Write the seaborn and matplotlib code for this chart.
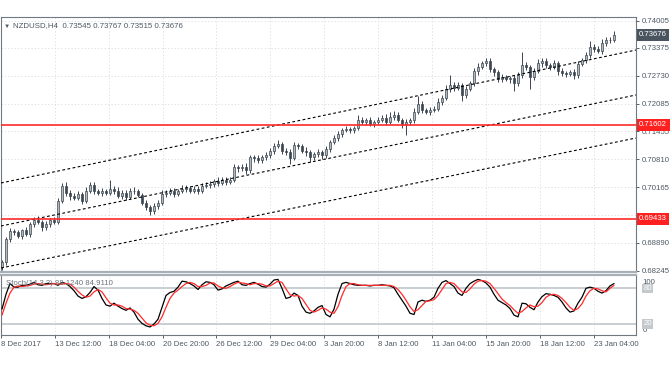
import numpy as np
import pandas as pd
import matplotlib
matplotlib.use("Agg")
import matplotlib.pyplot as plt
import seaborn as sns

# NZDUSD H4 closes (open = previous close)
first_open = 0.6833
close = [
    0.6844, 0.6896, 0.6915, 0.6913, 0.6905, 0.6917, 0.6908, 0.6931, 0.6941, 0.6936,
    0.6924, 0.6932, 0.6941, 0.6937, 0.6985, 0.7020, 0.7004, 0.6996, 0.6992, 0.7001,
    0.6985, 0.7008, 0.7022, 0.7008, 0.7004, 0.7008, 0.7004, 0.7013, 0.7008, 0.6996,
    0.7004, 0.6994, 0.7008, 0.7008, 0.6999, 0.6980, 0.6971, 0.6961, 0.6973, 0.6980,
    0.7001, 0.7004, 0.7008, 0.7001, 0.7008, 0.7013, 0.7015, 0.7008, 0.7013, 0.7008,
    0.7020, 0.7022, 0.7024, 0.7031, 0.7027, 0.7034, 0.7029, 0.7034, 0.7062, 0.7060,
    0.7064, 0.7055, 0.7085, 0.7083, 0.7078, 0.7085, 0.7090, 0.7101, 0.7111, 0.7115,
    0.7101, 0.7097, 0.7083, 0.7113, 0.7111, 0.7101, 0.7097, 0.7085, 0.7092, 0.7097,
    0.7090, 0.7104, 0.7120, 0.7129, 0.7139, 0.7148, 0.7150, 0.7148, 0.7153, 0.7171,
    0.7167, 0.7171, 0.7162, 0.7167, 0.7171, 0.7176, 0.7167, 0.7178, 0.7183, 0.7171,
    0.7162, 0.7167, 0.7171, 0.7190, 0.7209, 0.7195, 0.7190, 0.7195, 0.7197, 0.7213,
    0.7223, 0.7242, 0.7253, 0.7246, 0.7251, 0.7228, 0.7242, 0.7256, 0.7284, 0.7293,
    0.7302, 0.7307, 0.7288, 0.7281, 0.7265, 0.7270, 0.7265, 0.7267, 0.7256, 0.7274,
    0.7298, 0.7293, 0.7270, 0.7284, 0.7302, 0.7307, 0.7298, 0.7293, 0.7302, 0.7284,
    0.7279, 0.7277, 0.7281, 0.7274, 0.7300, 0.7309, 0.7321, 0.7340, 0.7335, 0.7330,
    0.7349, 0.7356, 0.73545, 0.73676,
]
# wick lengths in pips above / below the body
wick_up = [
    5, 6, 8, 5, 6, 4, 7, 5, 6, 8,
    5, 6, 4, 7, 6, 7, 8, 5, 6, 7,
    5, 8, 6, 7, 5, 6, 4, 20, 6, 8,
    5, 7, 6, 8, 5, 4, 6, 5, 7, 6,
    8, 5, 7, 6, 5, 8, 6, 5, 7, 6,
    5, 7, 6, 5, 8, 6, 5, 7, 9, 6,
    7, 8, 6, 5, 7, 6, 8, 6, 7, 10,
    6, 5, 7, 8, 6, 5, 7, 6, 5, 8,
    6, 7, 5, 8, 6, 5, 7, 6, 5, 12,
    7, 6, 8, 5, 7, 6, 9, 12, 8, 6,
    5, 7, 6, 8, 18, 6, 5, 7, 6, 8,
    7, 9, 22, 6, 7, 5, 8, 6, 7, 9,
    6, 8, 7, 6, 5, 7, 6, 5, 8, 7,
    30, 8, 6, 7, 9, 6, 7, 5, 8, 6,
    7, 5, 6, 8, 7, 6, 8, 14, 7, 6,
    8, 6, 7, 9,
]
wick_dn = [
    7, 6, 5, 7, 6, 8, 5, 6, 7, 5,
    8, 6, 7, 5, 6, 5, 7, 8, 6, 5,
    7, 6, 5, 8, 6, 7, 5, 6, 8, 5,
    6, 8, 5, 7, 6, 5, 8, 9, 6, 7,
    5, 7, 6, 8, 5, 6, 7, 5, 6, 8,
    6, 5, 7, 6, 8, 5, 7, 6, 5, 8,
    6, 7, 5, 8, 6, 5, 7, 6, 8, 5,
    7, 6, 12, 5, 7, 6, 8, 10, 6, 5,
    8, 6, 7, 5, 6, 8, 5, 7, 6, 5,
    6, 8, 5, 7, 6, 5, 8, 6, 7, 5,
    8, 25, 7, 6, 5, 8, 6, 7, 5, 6,
    7, 5, 6, 8, 6, 12, 7, 5, 6, 8,
    5, 7, 6, 8, 7, 6, 5, 8, 18, 6,
    5, 7, 27, 6, 5, 8, 6, 7, 5, 8,
    6, 7, 5, 8, 6, 5, 7, 6, 8, 5,
    6, 7, 5, 3,
]
# Stochastic (14,3,3): main (black) and signal (red)
stoch_k = [
    45, 70, 88, 82, 82, 85, 85, 87, 90, 86,
    85, 88, 88, 88, 85, 90, 88, 83, 76, 67,
    63, 66, 73, 83, 77, 63, 52, 50, 55, 50,
    46, 43, 47, 40, 28, 21, 17, 15, 20, 28,
    48, 68, 73, 75, 82, 92, 91, 88, 84, 78,
    86, 91, 90, 86, 77, 79, 84, 87, 90, 92,
    86, 85, 88, 90, 87, 83, 82, 87, 94, 95,
    80, 63, 65, 72, 68, 50, 40, 38, 42, 48,
    51, 36, 32, 45, 70, 88, 90, 88, 86, 85,
    85, 85, 84, 85, 85, 86, 85, 84, 81, 70,
    60, 50, 38, 36, 57, 60, 58, 60, 65, 80,
    90, 93, 88, 83, 72, 68, 80, 88, 92, 95,
    93, 89, 82, 70, 60, 56, 52, 46, 35, 32,
    55, 54, 48, 44, 57, 66, 71, 70, 68, 65,
    57, 47, 40, 42, 55, 65, 80, 82, 80, 75,
    72, 76, 84, 88,
]
stoch_d = [
    35, 55, 72, 82, 84, 83, 84, 85, 87, 88,
    87, 86, 87, 88, 87, 87, 88, 87, 82, 75,
    69, 65, 67, 74, 78, 74, 64, 55, 52, 52,
    50, 46, 45, 43, 38, 30, 22, 18, 17, 21,
    32, 48, 63, 72, 77, 83, 88, 90, 88, 83,
    83, 85, 89, 89, 84, 81, 80, 83, 87, 90,
    89, 88, 86, 88, 88, 87, 84, 84, 88, 92,
    90, 79, 69, 67, 68, 63, 53, 43, 40, 43,
    47, 45, 40, 38, 49, 68, 83, 88, 88, 86,
    85, 85, 85, 85, 85, 85, 85, 85, 83, 78,
    70, 60, 49, 41, 44, 51, 58, 59, 61, 68,
    78, 88, 90, 88, 81, 74, 73, 79, 87, 92,
    93, 92, 88, 80, 71, 62, 56, 51, 44, 38,
    41, 47, 52, 49, 50, 56, 65, 69, 70, 68,
    63, 56, 48, 43, 46, 54, 67, 76, 80, 79,
    76, 74, 80, 85,
]

price_ticks = [0.74005, 0.73375, 0.72730, 0.72085, 0.71455,
               0.70810, 0.70165, 0.69520, 0.68890, 0.68245]
date_pos = [-0.25, 13.25, 26.75, 40.25, 53.5, 67, 80.5, 94, 107.5, 121, 134.5, 148]
date_labels = ["8 Dec 2017", "13 Dec 12:00", "18 Dec 04:00", "20 Dec 20:00",
               "26 Dec 12:00", "29 Dec 04:00", "3 Jan 20:00", "8 Jan 12:00",
               "11 Jan 04:00", "15 Jan 20:00", "18 Jan 12:00", "23 Jan 04:00"]
channel_x = [-0.25, 158.5]
channel_upper = [0.70262, 0.73325]
channel_mid = [0.69271, 0.72289]
channel_lower = [0.68304, 0.71298]
levels = [0.71602, 0.69433]

sns.set_style("white")
plt.rcParams["font.family"] = ["Liberation Sans", "DejaVu Sans"]
txt = "#4d5863"
dark = "#3c4650"
fs = 5.6

df = pd.DataFrame({"close": close, "up": wick_up, "dn": wick_dn})
df["bar"] = np.arange(len(df))
df["open"] = df["close"].shift(1).fillna(first_open)
df["top"] = df[["open", "close"]].max(axis=1)
df["bot"] = df[["open", "close"]].min(axis=1)
df["high"] = df["top"] + df["up"] * 0.0001
df["low"] = df["bot"] - df["dn"] * 0.0001
bull = df["close"] >= df["open"]

fig = plt.figure(figsize=(6.72, 3.72), dpi=100)
ax = fig.add_axes([1 / 672, 1 - 272 / 372, 635 / 672, 255 / 372])
ax2 = fig.add_axes([1 / 672, 1 - 335 / 372, 635 / 672, 60 / 372])

# grid
for a in (ax, ax2):
    for xp in date_pos:
        a.axvline(xp, color="#d6dbe0", lw=0.6, ls=(0, (1.5, 2.5)), zorder=0)
for p in price_ticks:
    ax.axhline(p, color="#d6dbe0", lw=0.6, ls=(0, (1.5, 2.5)), zorder=0)

# candles
ax.vlines(df["bar"], df["low"], df["high"], color=dark, lw=0.7, zorder=2)
ax.bar(df["bar"][bull], (df["top"] - df["bot"])[bull].clip(lower=0.00004),
       bottom=df["bot"][bull], width=0.7, color="#b3bac1",
       edgecolor=dark, linewidth=0.5, zorder=3)
ax.bar(df["bar"][~bull], (df["top"] - df["bot"])[~bull].clip(lower=0.00004),
       bottom=df["bot"][~bull], width=0.7, color=dark,
       edgecolor=dark, linewidth=0.5, zorder=3)

# channel
for ys in (channel_upper, channel_mid, channel_lower):
    sns.lineplot(x=channel_x, y=ys, ax=ax, color="black", lw=0.8,
                 linestyle=(0, (2.5, 2.2)), zorder=4)
for lv in levels:
    ax.axhline(lv, color="#ff2a2a", lw=1.2, zorder=4)

ax.set_xlim(-0.25, 158.5)
ax.set_ylim(0.68211, 0.74086)
ax.yaxis.tick_right()
ax.set_yticks(price_ticks)
ax.set_yticklabels([f"{p:.5f}" for p in price_ticks])
ax.tick_params(axis="y", right=True, length=2.5, width=0.6, color=dark,
               labelsize=fs, labelcolor=txt, pad=2)
ax.set_xticks([])
ax.set_xlabel("")
ax.set_ylabel("")

for side in ("top", "left", "right"):
    ax.spines[side].set_color("#6f7983")
    ax.spines[side].set_linewidth(0.8)
ax.spines["bottom"].set_color("#a8b0b7")
ax.spines["bottom"].set_linewidth(1.6)

# price boxes
box = dict(boxstyle="square,pad=0.3", ec="none")
ax.text(1.005, close[-1], "0.73676", transform=ax.get_yaxis_transform(),
        ha="left", va="center", fontsize=fs, color="white",
        bbox=dict(box, fc="#4a545e"), zorder=10, clip_on=False)
for lv in levels:
    ax.text(1.005, lv, f"{lv:.5f}", transform=ax.get_yaxis_transform(),
            ha="left", va="center", fontsize=fs, color="white",
            bbox=dict(box, fc="#ff2020"), zorder=10, clip_on=False)

# title
fig.text(4 / 672, 1 - 26 / 372, "▼", fontsize=4.5, color=txt, va="center")
fig.text(13 / 672, 1 - 26 / 372, "NZDUSD,H4  0.73545 0.73767 0.73515 0.73676",
         fontsize=5.7, color=txt, va="center")

# stochastic
for lv in (80, 20):
    ax2.axhline(lv, color="#c9ced2", lw=1.4, zorder=1)
sns.lineplot(x=df["bar"], y=stoch_k, ax=ax2, color="black", lw=0.9, zorder=3)
sns.lineplot(x=df["bar"], y=stoch_d, ax=ax2, color="#ff2a2a", lw=0.9, zorder=4)
ax2.set_xlim(-0.25, 158.5)
ax2.set_ylim(1.5, 102.4)
ax2.set_yticks([])
ax2.set_ylabel("")
ax2.set_xlabel("")
ax2.set_xticks(date_pos)
ax2.set_xticklabels(date_labels, ha="left")
ax2.tick_params(axis="x", bottom=True, length=2.5, width=0.6, color=dark,
                labelsize=fs, labelcolor=txt, pad=2)
for side in ("left", "right", "bottom"):
    ax2.spines[side].set_color("#6f7983")
    ax2.spines[side].set_linewidth(0.8)
ax2.spines["top"].set_color("#a8b0b7")
ax2.spines["top"].set_linewidth(1.6)

ax2.text(0.008, 0.86, "Stoch(14,3,3) 88.1240 84.9110", transform=ax2.transAxes,
         fontsize=fs, color="#6a737c", va="center", zorder=6)
ax2.text(1.01, 0.88, "100", transform=ax2.transAxes, fontsize=fs, color=txt,
         va="center", clip_on=False)
ax2.text(1.01, 0.07, "0", transform=ax2.transAxes, fontsize=fs, color=txt,
         va="center", clip_on=False)
for lv in (80, 20):
    ax2.text(1.012, lv, str(lv), transform=ax2.get_yaxis_transform(),
             fontsize=fs, color="white", va="center", clip_on=False,
             bbox=dict(boxstyle="square,pad=0.15", fc="#c4c9cd", ec="none"))

fig.savefig("out.png", dpi=100)
